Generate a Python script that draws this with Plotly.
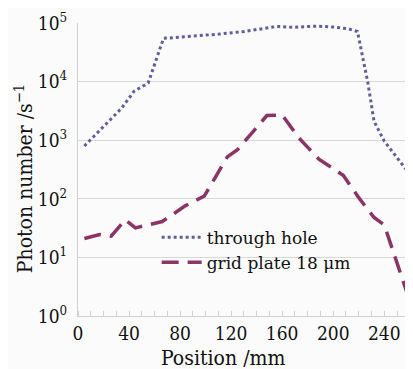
import plotly.graph_objects as go

hole_x = [5, 23, 34, 44, 52, 55, 67, 90, 110, 130, 145, 156, 168, 178, 187, 200, 212, 219, 227, 232, 240, 258]
hole_y = [800, 2000, 3500, 6900, 8800, 9500, 55000, 60000, 65000, 72000, 80000, 88000, 85000, 86000, 89000, 86000, 80000, 72000, 10000, 2100, 970, 300]

grid_x = [5, 17, 26, 37, 45, 66, 84, 99, 117, 125, 148, 160, 173, 180, 189, 199, 208, 220, 232, 240, 260]
grid_y = [21, 24.5, 23, 44, 32, 41, 76, 112, 520, 690, 2650, 2700, 1100, 750, 470, 340, 250, 105, 48, 36, 1.8]

x_ticks = [0, 40, 80, 120, 160, 200, 240]
y_ticks = [1, 10, 100, 1000, 10000, 100000]
y_ticktext = ["10<sup>0</sup>", "10<sup>1</sup>", "10<sup>2</sup>", "10<sup>3</sup>", "10<sup>4</sup>", "10<sup>5</sup>"]

FONT = "DejaVu Serif Condensed, DejaVu Serif, serif"
FONT_REG = "DejaVu Serif, serif"

fig = go.Figure()
fig.add_trace(go.Scatter(x=hole_x, y=hole_y, mode="lines", name="through hole",
                         line=dict(color="#5e5da0", width=3, dash="dot")))
fig.add_trace(go.Scatter(x=grid_x, y=grid_y, mode="lines", name="grid plate 18 μm",
                         line=dict(color="#8b3566", width=3.5, dash="17px,9px")))

fig.update_layout(
    width=413, height=369,
    margin=dict(l=70, r=1, t=15, b=61),
    paper_bgcolor="#fbfbfb", plot_bgcolor="#fbfbfb",
    font=dict(family=FONT, size=18, color="#111"),
    showlegend=True,
    legend=dict(x=0.23, y=0.225, xanchor="left", yanchor="middle",
                bgcolor="rgba(0,0,0,0)", font=dict(size=17, family=FONT_REG),
                tracegroupgap=0, itemwidth=40),
    annotations=[
        dict(text="Position /mm", xref="paper", yref="paper", x=(215 - 70) / 342, y=-0.095,
             xanchor="center", yanchor="top", showarrow=False, font=dict(size=21, family=FONT)),
        dict(text="Photon number /s<sup>−1</sup>", xref="paper", yref="paper", x=-0.158,
             y=0.47, xanchor="center", yanchor="middle", textangle=-90, showarrow=False,
             font=dict(size=21, family=FONT)),
    ],
)
fig.update_xaxes(range=[0, 268], tickvals=x_ticks, showgrid=False,
                 showline=True, linecolor="#d0d0d0", linewidth=1,
                 ticks="", tickfont=dict(size=19), ticklabelstandoff=0,
                 minor=dict(dtick=10, ticks="inside", ticklen=5, tickcolor="#d0d0d0"),
                 zeroline=False)
fig.update_yaxes(type="log", range=[0, 5.003], tickvals=y_ticks, ticktext=y_ticktext,
                 showgrid=True, gridcolor="#d8d8d8", gridwidth=1,
                 showline=True, linecolor="#d0d0d0", linewidth=1,
                 ticks="", tickfont=dict(size=19), ticklabelstandoff=6,
                 zeroline=False)

fig.write_html("out.html")
